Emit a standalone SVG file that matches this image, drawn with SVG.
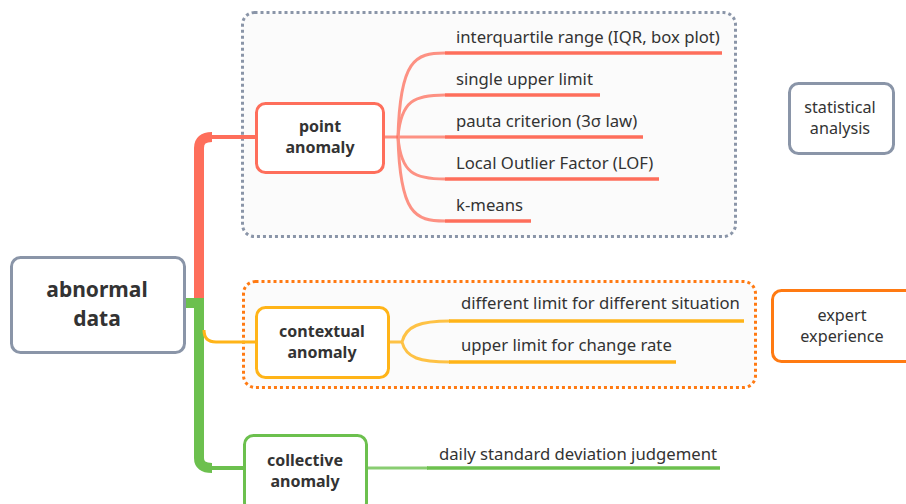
<svg xmlns="http://www.w3.org/2000/svg" width="906" height="504" viewBox="0 0 906 504">
  <style>
    text { font-family: "Noto Sans", "Open Sans", "DejaVu Sans", sans-serif; fill: #333; }
    .leaf { font-size: 16.7px; }
    .main { font-size: 16px; font-weight: bold; text-anchor: middle; }
    .root { font-size: 21px; font-weight: bold; text-anchor: middle; }
    .side { font-size: 16.2px; text-anchor: middle; }
    .box { fill: #fff; stroke-width: 3; }
    .grey { stroke: #8a95a8; }
    .red { stroke: #fe6e5b; }
    .amber { stroke: #ffb418; }
    .orange { stroke: #ff7a12; }
    .green { stroke: #6cc04e; }
    .zone { fill: #fbfbfb; stroke-width: 3; stroke-dasharray: 3 3; }
    .line { fill: none; stroke-linecap: butt; }
  </style>

  <!-- boundary zones -->
  <g id="zone-statistical">
    <rect class="zone grey" x="242.5" y="12.5" width="493" height="224" rx="12"/>
  </g>
  <g id="zone-expert">
    <rect class="zone orange" x="243.5" y="281.5" width="512" height="106" rx="12"/>
  </g>

  <!-- connectors -->
  <g id="connectors" class="line">
    <!-- trunk: red part up to point anomaly -->
    <path class="red" d="M199,300 V148 Q199,137 212,137" stroke-width="10"/>
    <path class="red" d="M205,137 H256" stroke-width="4"/>
    <!-- trunk: green part down to collective anomaly -->
    <path class="green" d="M185,303 H199 V458 Q199,468 212,468" stroke-width="10"/>
    <path class="green" d="M205,468 H244" stroke-width="4"/>
    <!-- contextual branch -->
    <path class="amber" d="M204,330 Q204,342 216,342 H256" stroke-width="3"/>

    <!-- point anomaly leaves -->
    <path class="red" d="M384,137 H398" stroke-width="3" opacity="0.75"/>
    <g class="red" stroke-width="3" opacity="0.75">
      <path d="M398,137 C400,60 415,53 445,53"/>
      <path d="M398,137 C401,100 415,95 445,95"/>
      <path d="M398,137 H445"/>
      <path d="M398,137 C401,174 415,179 445,179"/>
      <path d="M398,137 C400,214 415,221 445,221"/>
    </g>
    <g class="red" stroke-width="3.5">
      <path d="M445,53 H722"/>
      <path d="M445,95 H600"/>
      <path d="M445,137 H643"/>
      <path d="M445,179 H659"/>
      <path d="M445,221 H531"/>
    </g>

    <!-- contextual anomaly leaves -->
    <g class="amber" stroke-width="3" opacity="0.8">
      <path d="M390,342 H402"/>
      <path d="M402,342 C406,326 420,321 450,321"/>
      <path d="M402,342 C406,358 420,362 450,362"/>
    </g>
    <g class="amber" stroke-width="3.5">
      <path d="M449,321 H744"/>
      <path d="M449,362 H676"/>
    </g>

    <!-- collective anomaly leaf -->
    <path class="green" d="M367,468 H428" stroke-width="3" opacity="0.8"/>
    <path class="green" d="M427,468 H720" stroke-width="3.5"/>
  </g>

  <!-- root -->
  <g id="node-abnormal-data">
    <rect class="box grey" x="11.5" y="257.5" width="173" height="95" rx="9"/>
    <text class="root" x="97" y="297">abnormal</text>
    <text class="root" x="97" y="326">data</text>
  </g>

  <!-- main topics -->
  <g id="node-point-anomaly">
    <rect class="box red" x="256.5" y="103.5" width="127" height="69" rx="9"/>
    <text class="main" x="320" y="132">point</text>
    <text class="main" x="320" y="153">anomaly</text>
  </g>
  <g id="node-contextual-anomaly">
    <rect class="box amber" x="256.5" y="307.5" width="132" height="70" rx="9"/>
    <text class="main" x="322" y="337">contextual</text>
    <text class="main" x="322" y="358">anomaly</text>
  </g>
  <g id="node-collective-anomaly">
    <rect class="box green" x="244.5" y="435.5" width="122" height="76" rx="9"/>
    <text class="main" x="305" y="466">collective</text>
    <text class="main" x="305" y="487">anomaly</text>
  </g>

  <!-- leaf topics -->
  <g id="leaf-iqr"><text class="leaf" x="456" y="43">interquartile range (IQR, box plot)</text></g>
  <g id="leaf-single-upper"><text class="leaf" x="456" y="85">single upper limit</text></g>
  <g id="leaf-pauta"><text class="leaf" x="456" y="127">pauta criterion (3σ law)</text></g>
  <g id="leaf-lof"><text class="leaf" x="456" y="169">Local Outlier Factor (LOF)</text></g>
  <g id="leaf-kmeans"><text class="leaf" x="456" y="211">k-means</text></g>
  <g id="leaf-diff-limit"><text class="leaf" x="461" y="309">different limit for different situation</text></g>
  <g id="leaf-change-rate"><text class="leaf" x="461" y="351">upper limit for change rate</text></g>
  <g id="leaf-daily-std"><text class="leaf" x="439" y="460">daily standard deviation judgement</text></g>

  <!-- zone labels -->
  <g id="node-statistical-analysis">
    <rect class="box grey" x="789.5" y="83.5" width="104" height="70" rx="9"/>
    <text class="side" x="840" y="113">statistical</text>
    <text class="side" x="840" y="134">analysis</text>
  </g>
  <g id="node-expert-experience">
    <rect class="box orange" x="772.5" y="290.5" width="145" height="71" rx="9"/>
    <text class="side" x="842" y="321">expert</text>
    <text class="side" x="842" y="342">experience</text>
  </g>
</svg>
